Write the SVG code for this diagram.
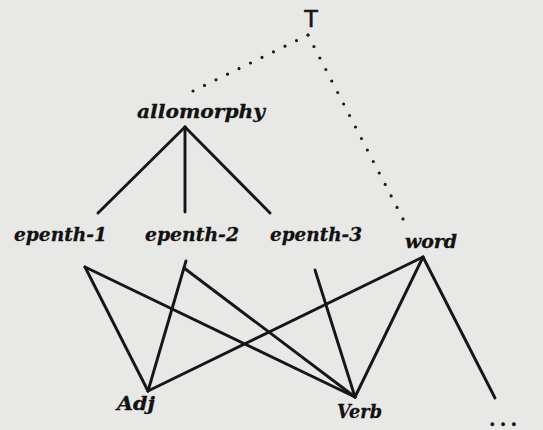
<svg xmlns="http://www.w3.org/2000/svg" width="543" height="430" viewBox="0 0 543 430">
<style>
.bg{fill:#e8e8e6}
.lbl{font-family:"DejaVu Serif","Liberation Serif",serif;font-weight:bold;font-style:italic;font-size:19px;fill:#121212;stroke:#121212;stroke-width:0.3}
.root{font-family:"Liberation Sans","DejaVu Sans",sans-serif;font-size:24px;fill:#141414;stroke:#141414;stroke-width:0.6}
.edge{stroke:#161616;stroke-width:2.9;fill:none;stroke-linecap:round}
.dot{stroke:#1c1c1c;stroke-width:3.2;fill:none;stroke-linecap:round}
</style>
<rect class="bg" x="0" y="0" width="543" height="430"/>
<g id="connectors">
  <path class="dot" d="M308,35 L193,91" stroke-dasharray="0 12.79"/>
  <path class="dot" d="M308,35 L403,219" stroke-dasharray="0 12.94"/>
  <path class="edge" d="M185,127 L98,213"/>
  <path class="edge" d="M185,127 L185,212"/>
  <path class="edge" d="M185,127 L270,213"/>
  <path class="edge" d="M85,267 L148,391"/>
  <path class="edge" d="M85,267 L355,397"/>
  <path class="edge" d="M186,261 L148,391"/>
  <path class="edge" d="M184,268 L355,397"/>
  <path class="edge" d="M315,270 L355,397"/>
  <path class="edge" d="M423,257 L148,391"/>
  <path class="edge" d="M423,257 L355,397"/>
  <path class="edge" d="M423,257 L495,398"/>
</g>
<g id="T"><text class="root" x="311" y="27" text-anchor="middle">T</text></g>
<g id="allomorphy"><text class="lbl" x="137" y="118" textLength="128" lengthAdjust="spacingAndGlyphs">allomorphy</text></g>
<g id="epenth-1"><text class="lbl" x="14" y="241" textLength="93" lengthAdjust="spacingAndGlyphs">epenth-1</text></g>
<g id="epenth-2"><text class="lbl" x="145" y="241" textLength="94" lengthAdjust="spacingAndGlyphs">epenth-2</text></g>
<g id="epenth-3"><text class="lbl" x="270" y="241" textLength="92" lengthAdjust="spacingAndGlyphs">epenth-3</text></g>
<g id="word"><text class="lbl" x="405" y="248" textLength="52" lengthAdjust="spacingAndGlyphs">word</text></g>
<g id="Adj"><text class="lbl" x="117" y="410" textLength="38" lengthAdjust="spacingAndGlyphs">Adj</text></g>
<g id="Verb"><text class="lbl" x="337" y="418" textLength="45" lengthAdjust="spacingAndGlyphs">Verb</text></g>
<g id="more"><text class="lbl" x="489" y="426" textLength="28" lengthAdjust="spacing" style="font-style:normal">...</text></g>
</svg>
